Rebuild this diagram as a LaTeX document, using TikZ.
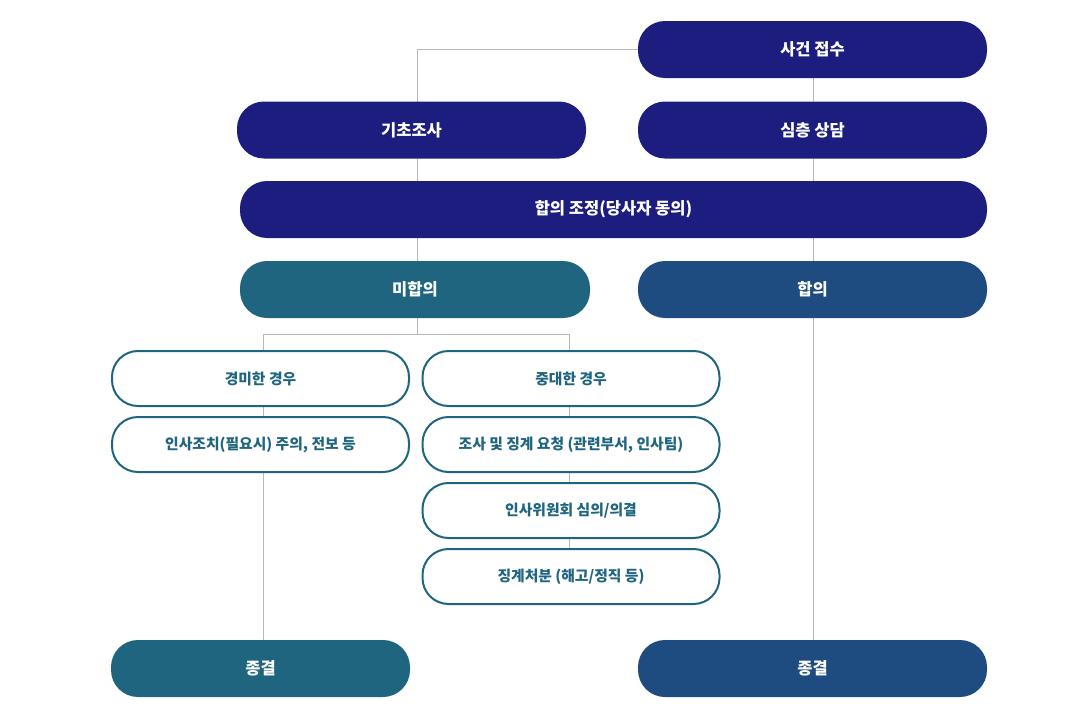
\documentclass[tikz,border=0pt]{standalone}
\usepackage{fontspec}
\setmainfont{Noto Sans CJK KR}
\usetikzlibrary{backgrounds}

\definecolor{boxnavy}{HTML}{1D1D7F}
\definecolor{boxteal}{HTML}{1F6580}
\definecolor{boxblue}{HTML}{1F4C80}
\definecolor{linegray}{HTML}{B8B8B8}

\tikzset{
  pill/.style={rounded corners=27pt, minimum height=57pt, inner sep=0pt, text=white,
    font=\fontsize{16.5}{16.5}\selectfont\bfseries},
  navybox/.style={pill, fill=boxnavy},
  tealbox/.style={pill, fill=boxteal},
  bluebox/.style={pill, fill=boxblue},
  linebox/.style={rounded corners=26pt, minimum width=297pt, minimum height=55pt, inner sep=0pt,
    draw=boxteal, line width=2pt, fill=white, text=boxteal,
    font=\fontsize{14.8}{14.8}\selectfont\bfseries},
  link/.style={draw=linegray, line width=1pt}
}

\begin{document}
\begin{tikzpicture}[x=1pt, y=-1pt]
      \useasboundingbox (0,0) rectangle (1069,704);

      \node[navybox, minimum width=349pt](jeopsu) at (812.5, 49.5){사건 접수};
      \node[navybox, minimum width=349pt](gicho) at (411.5, 130.0){기초조사};
      \node[navybox, minimum width=349pt](simcheung) at (812.5, 130.0){심층 상담};
      \node[navybox, minimum width=747pt](hapjo) at (613.5, 209.5){합의 조정(당사자 동의)};
      \node[tealbox, minimum width=350pt](mihap) at (415.0, 289.5){미합의};
      \node[bluebox, minimum width=349pt](hap) at (812.5, 289.5){합의};

      \node[linebox](gyeongmi) at (260.5, 378.5){경미한 경우};
      \node[linebox](insa) at (260.5, 444.5){인사조치(필요시) 주의, 전보 등};
      \node[linebox](jungdae) at (571.0, 378.5){중대한 경우};
      \node[linebox](josa) at (571.0, 444.5){조사 및 징계 요청 (관련부서, 인사팀)};
      \node[linebox](wiwon) at (571.0, 510.5){인사위원회 심의/의결};
      \node[linebox](jingye) at (571.0, 576.5){징계처분 (해고/정직 등)};

      \node[tealbox, minimum width=299pt](endL) at (260.5, 668.5){종결};
      \node[bluebox, minimum width=349pt](endR) at (812.5, 668.5){종결};

      \coordinate (trunkL) at (417, 0);
      \coordinate (trunkR) at (813, 0);
      \coordinate (subL) at (263, 0);
      \coordinate (subR) at (569, 0);
      \coordinate (fork) at (417, 334);

      \begin{scope}[on background layer]
        \draw[link] (jeopsu.center) -| (gicho.center -| trunkL);
        \draw[link] (gicho.south -| trunkL) -- (hapjo.north -| trunkL);
        \draw[link] (hapjo.south -| trunkL) -- (mihap.north -| trunkL);
        \draw[link] (mihap.south -| fork) -- (fork);
        \draw[link] (fork) -| (gyeongmi.north -| subL);
        \draw[link] (fork) -| (jungdae.north -| subR);

        \foreach \a/\b in {jeopsu/simcheung, simcheung/hapjo, hapjo/hap, hap/endR} {
          \draw[link] (\a.south -| trunkR) -- (\b.north -| trunkR);
        }
        \foreach \a/\b in {gyeongmi/insa, insa/endL} {
          \draw[link] (\a.south -| subL) -- (\b.north -| subL);
        }
        \foreach \a/\b in {jungdae/josa, josa/wiwon, wiwon/jingye} {
          \draw[link] (\a.south -| subR) -- (\b.north -| subR);
        }
      \end{scope}
\end{tikzpicture}
\end{document}
